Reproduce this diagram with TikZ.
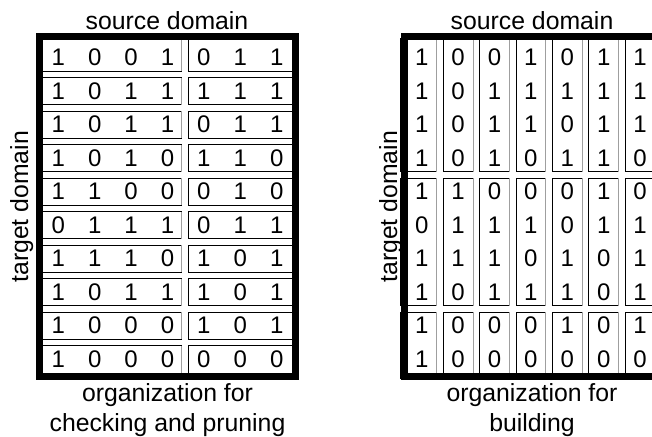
\documentclass[tikz,border=0pt]{standalone}
\usepackage{fontspec}
\setmainfont{Liberation Sans}
\tikzset{
  digit/.style={font=\fontsize{24}{28}\selectfont, inner sep=0pt},
  caption/.style={font=\fontsize{24.8}{30}\selectfont, inner sep=0pt, anchor=base},
  cellbox/.style={draw=black, line width=0.9pt},
  cellshade/.style={draw=gray!75, line width=0.9pt},
  frameline/.style={draw=black, line width=7pt}
}
% one boxed group: black outline with a grey right edge
\newcommand\bitbox[4]{%
  \draw[cellbox] (#1,#2) rectangle (#3,#4);
  \draw[cellshade] (#3,#2) -- (#3,#4);}
\begin{document}
\begin{tikzpicture}[x=1pt,y=-1pt]
\useasboundingbox (0,0) rectangle (652,436);
\clip (0,0) rectangle (652,436);

% ---------- left: rows grouped for checking and pruning ----------
\foreach \r in {1,...,10}{
  \pgfmathsetmacro\yt{ifthenelse(\r==1,38,41+33.5*(\r-1)+3.3)}
  \pgfmathsetmacro\yb{ifthenelse(\r==10,378,41+33.5*\r-3.3)}
  \bitbox{40}{\yt}{181.7}{\yb}
  \bitbox{188.3}{\yt}{296}{\yb}
}
\draw[frameline] (39.5,37) rectangle (295.5,376.5);

% ---------- right: columns grouped for building ----------
\foreach \yt/\yb in {38/171.7, 178.3/305.7, 312.3/378}{
  \foreach \c in {1,...,7}{
    \pgfmathsetmacro\xl{ifthenelse(\c==1,400,403.5+36.4*(\c-1)+3.3)}
    \pgfmathsetmacro\xr{403.5+36.4*\c-3.3}
    \bitbox{\xl}{\yt}{\xr}{\yb}
  }
}
\draw[frameline] (404,37) rectangle (660,376.5);

% ---------- the bit matrix, drawn in both layouts ----------
\foreach \row [count=\r] in {
  {1,0,0,1,0,1,1},
  {1,0,1,1,1,1,1},
  {1,0,1,1,0,1,1},
  {1,0,1,0,1,1,0},
  {1,1,0,0,0,1,0},
  {0,1,1,1,0,1,1},
  {1,1,1,0,1,0,1},
  {1,0,1,1,1,0,1},
  {1,0,0,0,1,0,1},
  {1,0,0,0,0,0,0}}{
  \foreach \v [count=\c] in \row {
    \pgfmathsetmacro\yc{57.5+33.5*(\r-1)}
    \node[digit] (L-\r-\c) at ({58.3+36.4*(\c-1)},\yc) {\v};
    \node[digit] (R-\r-\c) at ({421.7+36.4*(\c-1)},\yc) {\v};
  }
}

% ---------- axis captions ----------
\node[caption] (srcL) at (167,29.3) {source domain};
\node[caption] (srcR) at (532,29.3) {source domain};
\node[caption, rotate=90] (tgtL) at (28,206.7) {target domain};
\node[caption, rotate=90] (tgtR) at (397,206.7) {target domain};
\node[caption] (orgL1) at (167.5,401.5) {organization for};
\node[caption] (orgL2) at (167.5,431.5) {checking and pruning};
\node[caption] (orgR1) at (532,401.5) {organization for};
\node[caption] (orgR2) at (532,431.5) {building};
\end{tikzpicture}
\end{document}
